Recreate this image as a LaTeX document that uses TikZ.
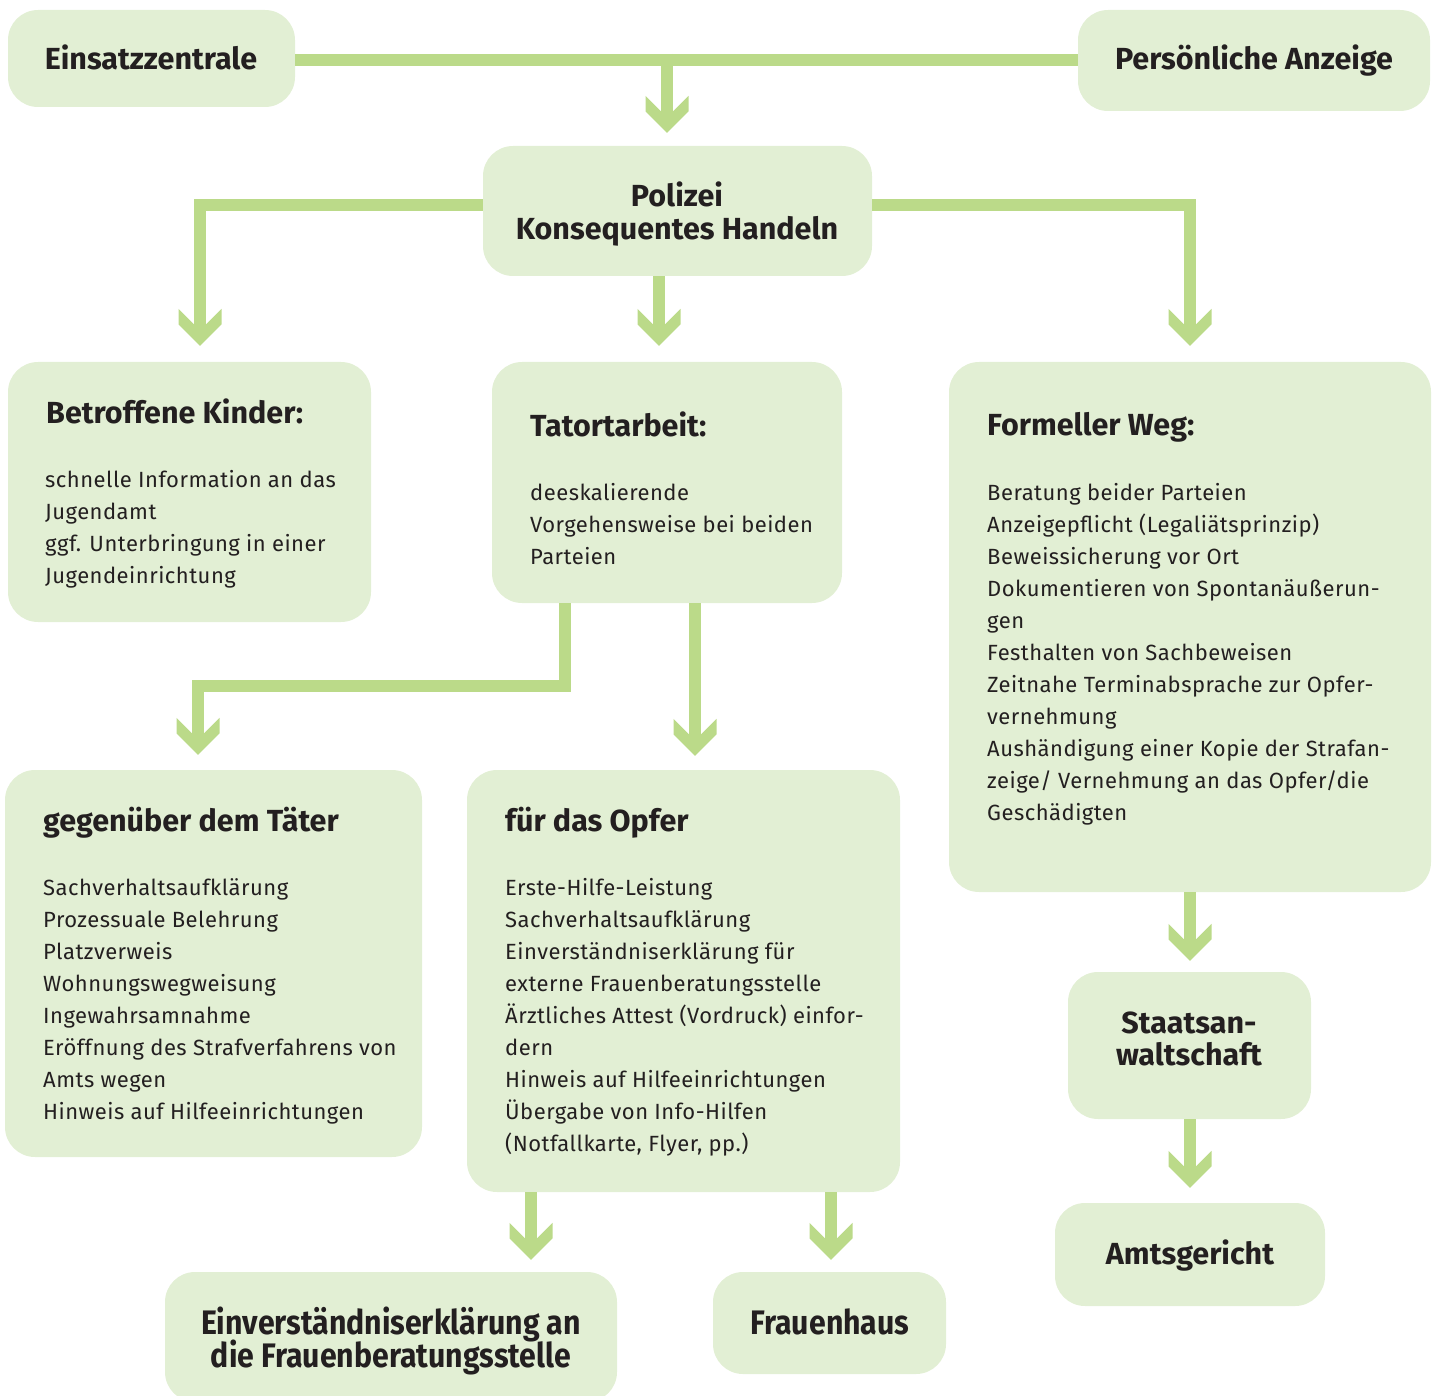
\documentclass[tikz,border=0pt]{standalone}
\usepackage{fontspec}
\setmainfont{Fira Sans}
\newfontfamily\condfont[FakeStretch=0.89]{Fira Sans}
\newfontfamily\bodyfont[LetterSpace=2.2]{Fira Sans}
\usetikzlibrary{calc}
\definecolor{boxfill}{HTML}{E2EFD4}
\definecolor{connc}{HTML}{BBDA89}
\definecolor{txt}{HTML}{231F20}
\pgfdeclarearrow{
  name = Chev,
  parameters = {},
  setup code = {
    \pgfarrowssettipend{0pt}
    \pgfarrowssetlineend{-11pt}
    \pgfarrowssetbackend{-37pt}
    \pgfarrowssetvisualbackend{-37pt}
    \pgfarrowshullpoint{0pt}{0pt}
    \pgfarrowsupperhullpoint{-37pt}{21.5pt}
  },
  drawing code = {
    \pgfpathmoveto{\pgfpoint{0pt}{0pt}}
    \pgfpathlineto{\pgfpoint{-21.5pt}{21.5pt}}
    \pgfpathlineto{\pgfpoint{-37pt}{21.5pt}}
    \pgfpathlineto{\pgfpoint{-15.5pt}{0pt}}
    \pgfpathlineto{\pgfpoint{-37pt}{-21.5pt}}
    \pgfpathlineto{\pgfpoint{-21.5pt}{-21.5pt}}
    \pgfpathclose
    \pgfusepathqfill
  }
}
\tikzset{
  box/.style={fill=boxfill, draw=none, rounded corners=30pt, inner sep=0pt},
  conn/.style={draw=connc, line width=12pt, miter limit=10},
  arr/.style={conn, -Chev},
  ttl/.style={font={\bfseries\fontsize{30.5}{33}\selectfont}, text=txt, inner sep=0pt, anchor=base west},
  bod/.style={font={\bodyfont\fontsize{22}{32}\selectfont}, text=txt, inner sep=0pt, anchor=north west, align=left},
  cnd/.style={font={\condfont\bfseries\fontsize{34}{33}\selectfont}, text=txt, inner sep=0pt, align=center}
}
\newcommand{\fst}{\rule{0pt}{20pt}}
\begin{document}
\begin{tikzpicture}[x=1pt, y=-1pt]
\useasboundingbox (0,0) rectangle (1437,1396);
% boxes
\node[box, minimum width=287pt, minimum height=97pt] (ez) at (151.5,58.5) {};
\node[box, minimum width=352pt, minimum height=101pt] (pa) at (1254,60.5) {};
\node[box, minimum width=389pt, minimum height=130pt] (pol) at (677.5,211) {};
\node[box, minimum width=363pt, minimum height=260pt] (kind) at (189.5,492) {};
\node[box, minimum width=350pt, minimum height=241pt] (tat) at (667,482.5) {};
\node[box, minimum width=482pt, minimum height=530pt] (form) at (1190,627) {};
\node[box, minimum width=417pt, minimum height=387pt] (tae) at (213.5,963.5) {};
\node[box, minimum width=433pt, minimum height=422pt] (opf) at (683.5,981) {};
\node[box, minimum width=452pt, minimum height=130pt] (einv) at (391,1337) {};
\node[box, minimum width=233pt, minimum height=102pt] (fh) at (829.5,1323) {};
\node[box, minimum width=243pt, minimum height=147pt] (sta) at (1189.5,1045.5) {};
\node[box, minimum width=270pt, minimum height=103pt] (amt) at (1190,1254.5) {};
% texts
\node[ttl, anchor=base] (tez) at (151,70) {Einsatzzentrale};
\node[ttl, anchor=base] (tpa) at (1254,70) {Persönliche Anzeige};
\node[ttl, anchor=base] (tpol1) at (677,207) {Polizei};
\node[ttl, anchor=base] (tpol2) at (677,240) {Konsequentes Handeln};
\node[ttl] (tkind) at (46,423) {Betroffene Kinder:};
\node[bod] (bkind) at (45,467) {\fst schnelle Information an das\\Jugendamt\\ggf. Unterbringung in einer\\Jugendeinrichtung};
\node[ttl] (ttat) at (530,436) {Tatortarbeit:};
\node[bod] (btat) at (530,480) {\fst deeskalierende\\Vorgehensweise bei beiden\\Parteien};
\node[ttl] (tform) at (987,435) {Formeller Weg:};
\node[bod] (bform) at (987,480) {\fst Beratung beider Parteien\\Anzeigepflicht (Legaliätsprinzip)\\Beweissicherung vor Ort\\Dokumentieren von Spontanäußerun-\\gen\\Festhalten von Sachbeweisen\\Zeitnahe Terminabsprache zur Opfer-\\vernehmung\\Aushändigung einer Kopie der Strafan-\\zeige/ Vernehmung an das Opfer/die\\Geschädigten};
\node[ttl] (ttae) at (43,831) {gegenüber dem Täter};
\node[bod] (btae) at (43,875) {\fst Sachverhaltsaufklärung\\Prozessuale Belehrung\\Platzverweis\\Wohnungswegweisung\\Ingewahrsamnahme\\Eröffnung des Strafverfahrens von\\Amts wegen\\Hinweis auf Hilfeeinrichtungen};
\node[ttl] (topf) at (505,831) {für das Opfer};
\node[bod] (bopf) at (505,875) {\fst Erste-Hilfe-Leistung\\Sachverhaltsaufklärung\\Einverständniserklärung für\\externe Frauenberatungsstelle\\Ärztliches Attest (Vordruck) einfor-\\dern\\Hinweis auf Hilfeeinrichtungen\\Übergabe von Info-Hilfen\\(Notfallkarte, Flyer, pp.)};
\node[ttl, anchor=base] (tsta1) at (1189,1033) {Staatsan-};
\node[ttl, anchor=base] (tsta2) at (1189,1065) {waltschaft};
\node[ttl, anchor=base] (tamt) at (1190,1264) {Amtsgericht};
\node[cnd, anchor=base] (tein1) at (391,1334) {Einverständniserklärung an};
\node[cnd, anchor=base] (tein2) at (391,1367) {die Frauenberatungsstelle};
\node[cnd, anchor=base] (tfh) at (830,1334) {Frauenhaus};
% connectors
\coordinate (j1) at (667,60);
\draw[conn] (ez.east |- j1) -- (pa.west |- j1);
\draw[arr] ([yshift=6pt]j1) -- ([yshift=13pt]pol.north -| j1);
\coordinate (pl) at (pol.west |- 0,205);
\coordinate (pr) at (pol.east |- 0,205);
\coordinate (kx) at (200,205);
\coordinate (fx) at (1190,205);
\draw[arr] (pl) -- (kx) -- ([yshift=16pt]kind.north -| kx);
\draw[arr] (pr) -- (fx) -- ([yshift=16pt]form.north -| fx);
\coordinate (pc) at (659,0);
\draw[arr] (pol.south -| pc) -- ([yshift=16pt]tat.north -| pc);
\coordinate (tl) at (565,686);
\coordinate (tlx) at (198,686);
\draw[arr] (tat.south -| tl) -- (tl) -- (tlx) -- ([yshift=15pt]tae.north -| tlx);
\coordinate (tr) at (695,0);
\draw[arr] (tat.south -| tr) -- ([yshift=14pt]opf.north -| tr);
\coordinate (ol) at (531,0);
\coordinate (or) at (831,0);
\draw[arr] (opf.south -| ol) -- ([yshift=12pt]einv.north -| ol);
\draw[arr] (opf.south -| or) -- ([yshift=12pt]fh.north -| or);
\draw[arr] (form.south) -- ([yshift=11pt]sta.north -| form.south);
\draw[arr] (sta.south -| form.south) -- ([yshift=15pt]amt.north -| form.south);
\end{tikzpicture}
\end{document}
